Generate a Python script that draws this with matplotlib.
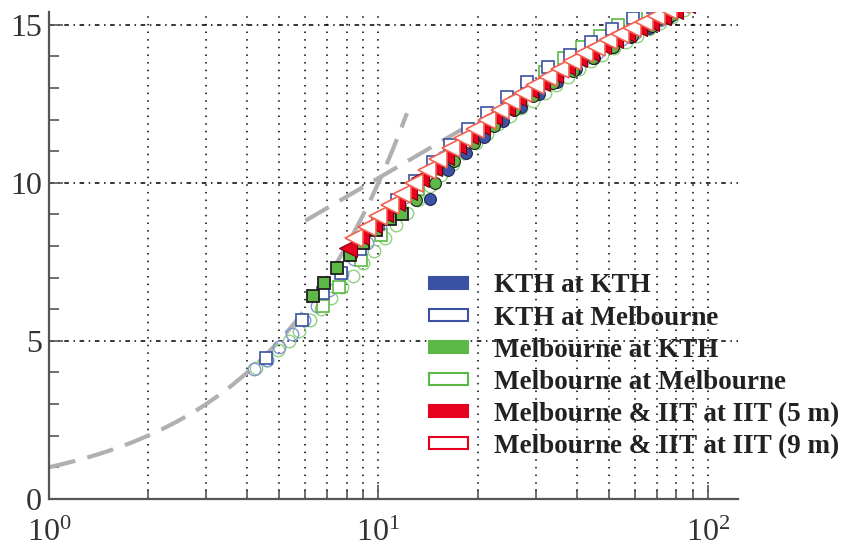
import matplotlib

matplotlib.use("Agg")
import matplotlib.pyplot as plt
from matplotlib.patches import Patch
from matplotlib.ticker import MultipleLocator

plt.rcParams["font.family"] = ["Liberation Serif", "DejaVu Serif"]
plt.rcParams["mathtext.default"] = "regular"

# Reference lines: viscous sublayer (U+ = y+) and log law
visc_x = [1.0, 1.1, 1.2, 1.3, 1.4, 1.5, 1.65, 1.8, 2.0, 2.2, 2.4, 2.6, 2.8, 3.0,
          3.3, 3.6, 4.0, 4.4, 4.8, 5.2, 5.6, 6.0, 6.5, 7.0, 7.5, 8.0, 8.5, 9.0,
          9.5, 10.0, 10.5, 11.0, 11.6, 12.2]
visc_y = [1.0, 1.1, 1.2, 1.3, 1.4, 1.5, 1.65, 1.8, 2.0, 2.2, 2.4, 2.6, 2.8, 3.0,
          3.3, 3.6, 4.0, 4.4, 4.8, 5.2, 5.6, 6.0, 6.5, 7.0, 7.5, 8.0, 8.5, 9.0,
          9.5, 10.0, 10.5, 11.0, 11.6, 12.2]
loglaw_x = [6.0, 18.0]
loglaw_y = [8.8, 11.7]

# KTH at Melbourne (open squares and open circles)
kth_mel_sq_x = [4.55, 5.85, 6.8, 7.7, 8.8, 10.0, 11.4, 12.9, 14.6, 16.5, 18.7,
                21.3, 24.5, 28.3, 32.8, 38.0, 44.0, 51.0, 59.0, 68.0]
kth_mel_sq_y = [4.45, 5.65, 6.5, 7.15, 7.9, 8.7, 9.45, 10.05, 10.65, 11.2, 11.7,
                12.2, 12.7, 13.2, 13.65, 14.05, 14.45, 14.85, 15.2, 15.55]
kth_mel_ci_x = [4.2, 4.6, 5.0, 5.45, 5.95, 6.5, 7.1, 7.75, 8.45, 9.2, 10.1, 11.0,
                12.0, 13.1, 14.3, 15.7, 17.2, 18.8, 20.6, 22.5, 24.6, 26.9, 29.4,
                32.1, 35.1, 38.4, 42.0, 45.9, 50.2, 54.9, 60.0, 65.6, 71.7, 78.4]
kth_mel_ci_y = [4.1, 4.4, 4.8, 5.2, 5.65, 6.1, 6.6, 7.1, 7.6, 8.1, 8.6, 9.1,
                9.55, 10.0, 10.4, 10.8, 11.15, 11.5, 11.8, 12.1, 12.4, 12.65, 12.9,
                13.15, 13.4, 13.65, 13.9, 14.1, 14.35, 14.55, 14.75, 14.95, 15.15, 15.4]

# KTH at KTH (filled circles)
kth_kth_x = [14.3, 16.2, 18.4, 20.9, 23.8, 27.0, 30.7, 34.9, 39.7, 45.1, 51.3,
             58.3, 66.3, 75.4]
kth_kth_y = [9.5, 10.4, 10.95, 11.45, 11.95, 12.4, 12.8, 13.2, 13.6, 13.95, 14.3,
             14.6, 14.9, 15.2]

# Melbourne at Melbourne (open squares and open circles)
mel_mel_sq_x = [6.77, 7.6, 8.87, 10.2, 11.6, 13.2, 15.0, 17.0, 19.3, 21.9, 24.9,
                28.3, 32.1, 36.5, 41.4, 47.0, 53.4, 60.6, 68.8]
mel_mel_sq_y = [6.1, 6.7, 7.55, 8.35, 9.1, 9.8, 10.45, 11.05, 11.6, 12.1, 12.6,
                13.1, 13.5, 13.95, 14.3, 14.65, 15.0, 15.3, 15.6]
mel_mel_ci_x = [4.25, 4.6, 4.95, 5.35, 5.75, 6.2, 6.7, 7.2, 7.75, 8.35, 9.0, 9.7,
                10.5, 11.3, 12.2, 13.2, 14.3, 15.5, 16.8, 18.2, 19.7, 21.3, 23.1,
                25.0, 27.1, 29.4, 31.9, 34.6, 37.5, 40.7, 44.1, 47.8, 51.8, 56.2,
                61.0, 66.1, 71.7, 77.8, 84.4]
mel_mel_ci_y = [4.15, 4.4, 4.7, 5.0, 5.3, 5.65, 6.0, 6.35, 6.7, 7.05, 7.45, 7.85,
                8.25, 8.65, 9.05, 9.45, 9.9, 10.25, 10.6, 10.95, 11.25, 11.55, 11.85,
                12.1, 12.35, 12.6, 12.85, 13.1, 13.35, 13.6, 13.85, 14.05, 14.25, 14.45,
                14.65, 14.85, 15.05, 15.25, 15.45]

# Melbourne at KTH (filled squares, then filled circles)
mel_kth_sq_x = [6.31, 6.85, 7.5, 8.2, 9.0, 9.8, 10.8, 11.8]
mel_kth_sq_y = [6.41, 6.82, 7.3, 7.7, 8.1, 8.5, 8.85, 9.0]
mel_kth_ci_x = [13.0, 14.8, 17.0, 19.5, 22.4, 25.7, 29.5, 33.9, 38.9, 44.7, 51.3,
                58.9, 67.6, 77.6]
mel_kth_ci_y = [9.45, 10.0, 10.7, 11.25, 11.8, 12.3, 12.75, 13.15, 13.55, 13.95,
                14.3, 14.65, 14.95, 15.3]

# Melbourne & IIT at IIT, 5 m (filled) and 9 m (open)
iit5_x = [8.1, 8.8, 9.6, 10.4, 11.3, 12.3, 13.4, 14.6, 15.9, 17.3, 18.8, 20.5,
          22.3, 24.3, 26.4, 28.7, 31.2, 34.0, 37.0, 40.2, 43.8, 47.6, 51.8, 56.4,
          61.3, 66.7, 72.6, 79.0, 86.0]
iit5_y = [7.95, 8.3, 8.7, 9.05, 9.4, 9.75, 10.15, 10.5, 10.85, 11.2, 11.5, 11.8,
          12.1, 12.4, 12.7, 12.95, 13.2, 13.45, 13.7, 13.95, 14.15, 14.35, 14.55,
          14.75, 14.92, 15.1, 15.28, 15.45, 15.65]
iit9_x = [8.4, 9.2, 10.0, 10.8, 11.8, 12.8, 14.0, 15.2, 16.6, 18.0, 19.6, 21.4,
          23.3, 25.3, 27.5, 29.9, 32.6, 35.5, 38.6, 42.0, 45.7, 49.7, 54.1, 58.8,
          64.0, 69.6, 75.8, 82.5]
iit9_y = [8.25, 8.6, 8.95, 9.3, 9.65, 10.0, 10.4, 10.75, 11.1, 11.4, 11.7, 12.0,
          12.3, 12.6, 12.85, 13.1, 13.35, 13.6, 13.85, 14.1, 14.3, 14.5, 14.7,
          14.9, 15.08, 15.26, 15.45, 15.65]

legend_labels = [
    "KTH at KTH",
    "KTH at Melbourne",
    "Melbourne at KTH",
    "Melbourne at Melbourne",
    "Melbourne & IIT at IIT (5 m)",
    "Melbourne & IIT at IIT (9 m)",
]

navy = "#3b51a3"
green = "#5cb947"
red = "#e8001f"

fig = plt.figure(figsize=(8.44, 5.47), dpi=100)
ax = fig.add_axes([0.058, 0.088, 0.816, 0.890])

ax.plot(visc_x, visc_y, color="#b0b0b0", linewidth=3.0, dashes=(6.5, 3), zorder=2)
ax.plot(loglaw_x, loglaw_y, color="#b0b0b0", linewidth=3.0, dashes=(6.5, 3), zorder=2)

ax.plot(mel_mel_ci_x, mel_mel_ci_y, "o", ms=9, mfc="none", mec="#8fd27f", mew=1.0, zorder=3)
ax.plot(kth_mel_ci_x, kth_mel_ci_y, "o", ms=9, mfc="none", mec="#8494d4", mew=1.0, zorder=3)
ax.plot(mel_mel_sq_x, mel_mel_sq_y, "s", ms=8.5, mfc="white", mec=green, mew=1.2, zorder=4)
ax.plot(kth_mel_sq_x, kth_mel_sq_y, "s", ms=8.5, mfc="white", mec=navy, mew=1.2, zorder=4)
ax.plot(kth_kth_x, kth_kth_y, "o", ms=8.5, mfc=navy, mec="#1c2450", mew=0.8, zorder=5)
ax.plot(mel_kth_ci_x, mel_kth_ci_y, "o", ms=8.5, mfc=green, mec="#1e1e1e", mew=0.8, zorder=5)
ax.plot(mel_kth_sq_x, mel_kth_sq_y, "s", ms=8.5, mfc=green, mec="#1e1e1e", mew=1.3, zorder=5)
ax.plot(iit5_x, iit5_y, "<", ms=13, mfc=red, mec="#7a0010", mew=0.8, zorder=6)
ax.plot(iit9_x, iit9_y, "<", ms=13, mfc="white", mec="#f2604f", mew=1.2, zorder=7)

ax.set_xscale("log")
ax.set_xlim(1, 123)
ax.set_ylim(0, 15.4)
ax.yaxis.set_major_locator(MultipleLocator(5))
ax.yaxis.set_minor_locator(MultipleLocator(1))

ax.grid(which="both", axis="x", color="black", linewidth=1.1, linestyle=(0, (1, 4)))
ax.grid(which="major", axis="y", color="black", linewidth=1.1, linestyle=(0, (3, 3, 1, 3)))
ax.set_axisbelow(True)

for side in ["top", "right"]:
    ax.spines[side].set_visible(False)
for side in ["left", "bottom"]:
    ax.spines[side].set_color("#555555")
    ax.spines[side].set_linewidth(1.6)

ax.tick_params(which="major", direction="in", length=10, width=1.2, color="#555555",
               labelsize=23, labelcolor="#333333")
ax.tick_params(which="minor", direction="in", length=7, width=1.2, color="#555555")
ax.tick_params(axis="x", which="major", pad=14)
ax.tick_params(axis="y", which="major", pad=5)

handles = [
    Patch(facecolor=navy, edgecolor=navy, linewidth=1.5),
    Patch(facecolor="white", edgecolor=navy, linewidth=1.5),
    Patch(facecolor=green, edgecolor=green, linewidth=1.5),
    Patch(facecolor="white", edgecolor=green, linewidth=1.5),
    Patch(facecolor=red, edgecolor=red, linewidth=1.5),
    Patch(facecolor="white", edgecolor=red, linewidth=1.5),
]
legend = fig.legend(
    handles,
    legend_labels,
    loc="upper left",
    bbox_to_anchor=(0.508, 0.50),
    bbox_transform=fig.transFigure,
    frameon=False,
    borderpad=0,
    borderaxespad=0,
    handlelength=1.45,
    handleheight=0.33,
    handletextpad=0.95,
    labelspacing=0.26,
    prop={"size": 19.5, "weight": "bold"},
)
for text in legend.get_texts():
    text.set_color("#222222")

fig.savefig("out.png", dpi=100)
